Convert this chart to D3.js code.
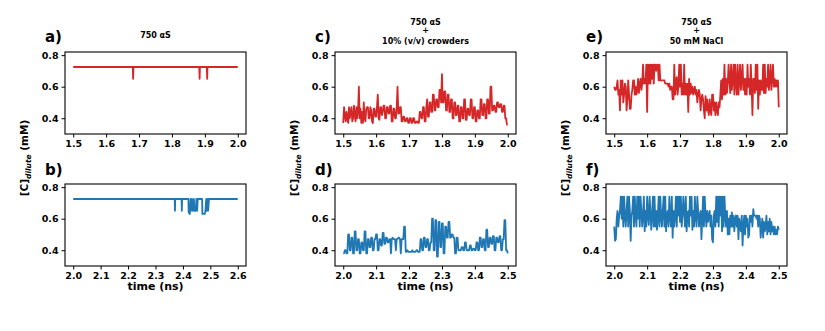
<!DOCTYPE html>
<html>
<head>
<meta charset="utf-8">
<script src="https://cdnjs.cloudflare.com/ajax/libs/d3/7.8.5/d3.min.js"></script>
<style>
  body { margin: 0; background: #fff; }
  svg text { font-family: "DejaVu Sans", sans-serif; font-weight: bold; fill: #000; }
</style>
</head>
<body>
<div id="chart"></div>
<script>
// a) and b): [time (ns), concentration (mM)] pairs, a flat trace with short dips
var dataA = [[1.5,0.725],[1.681,0.725],[1.682,0.65],[1.683,0.725],[1.883,0.725],[1.884,0.65],
  [1.885,0.725],[1.906,0.725],[1.907,0.65],[1.908,0.725],[2.0,0.725]];

var dataB = [[2.0,0.725],[2.37,0.725],[2.371,0.65],[2.372,0.725],[2.395,0.725],[2.396,0.65],
  [2.397,0.725],[2.42,0.725],[2.421,0.64],[2.425,0.63],[2.428,0.725],[2.43,0.65],[2.433,0.725],
  [2.436,0.65],[2.44,0.725],[2.442,0.65],[2.447,0.65],[2.449,0.725],[2.452,0.65],[2.454,0.725],
  [2.47,0.725],[2.471,0.63],[2.48,0.63],[2.482,0.65],[2.485,0.725],[2.487,0.65],[2.49,0.725],
  [2.492,0.65],[2.495,0.725],[2.6,0.725]];

// sampling times for c), e) (top row) and d), f) (bottom row)
var timeTop = [
  1.5,1.5025,1.505,1.5075,1.51,1.5125,1.515,1.5175,1.52,1.5225,
  1.525,1.5275,1.53,1.5325,1.535,1.5375,1.54,1.5425,1.545,1.5475,
  1.55,1.5525,1.555,1.5575,1.56,1.5625,1.565,1.5675,1.57,1.5725,
  1.575,1.5775,1.58,1.5825,1.585,1.5875,1.59,1.5925,1.595,1.5975,
  1.6,1.6025,1.605,1.6075,1.61,1.6125,1.615,1.6175,1.62,1.6225,
  1.625,1.6275,1.63,1.6325,1.635,1.6375,1.64,1.6425,1.645,1.6475,
  1.65,1.6525,1.655,1.6575,1.66,1.6625,1.665,1.6675,1.67,1.6725,
  1.675,1.6775,1.68,1.6825,1.685,1.6875,1.69,1.6925,1.695,1.6975,
  1.7,1.7025,1.705,1.7075,1.71,1.7125,1.715,1.7175,1.72,1.7225,
  1.725,1.7275,1.73,1.7325,1.735,1.7375,1.74,1.7425,1.745,1.7475,
  1.75,1.7525,1.755,1.7575,1.76,1.7625,1.765,1.7675,1.77,1.7725,
  1.775,1.7775,1.78,1.7825,1.785,1.7875,1.79,1.7925,1.795,1.7975,
  1.8,1.8025,1.805,1.8075,1.81,1.8125,1.815,1.8175,1.82,1.8225,
  1.825,1.8275,1.83,1.8325,1.835,1.8375,1.84,1.8425,1.845,1.8475,
  1.85,1.8525,1.855,1.8575,1.86,1.8625,1.865,1.8675,1.87,1.8725,
  1.875,1.8775,1.88,1.8825,1.885,1.8875,1.89,1.8925,1.895,1.8975,
  1.9,1.9025,1.905,1.9075,1.91,1.9125,1.915,1.9175,1.92,1.9225,
  1.925,1.9275,1.93,1.9325,1.935,1.9375,1.94,1.9425,1.945,1.9475,
  1.95,1.9525,1.955,1.9575,1.96,1.9625,1.965,1.9675,1.97,1.9725,
  1.975,1.9775,1.98,1.9825,1.985,1.9875,1.99,1.9925,1.995,1.9975,
  2.0];

var timeBottom = [
  2.0,2.0025,2.005,2.0075,2.01,2.0125,2.015,2.0175,2.02,2.0225,
  2.025,2.0275,2.03,2.0325,2.035,2.0375,2.04,2.0425,2.045,2.0475,
  2.05,2.0525,2.055,2.0575,2.06,2.0625,2.065,2.0675,2.07,2.0725,
  2.075,2.0775,2.08,2.0825,2.085,2.0875,2.09,2.0925,2.095,2.0975,
  2.1,2.1025,2.105,2.1075,2.11,2.1125,2.115,2.1175,2.12,2.1225,
  2.125,2.1275,2.13,2.1325,2.135,2.1375,2.14,2.1425,2.145,2.1475,
  2.15,2.1525,2.155,2.1575,2.16,2.1625,2.165,2.1675,2.17,2.1725,
  2.175,2.1775,2.18,2.1825,2.185,2.1875,2.19,2.1925,2.195,2.1975,
  2.2,2.2025,2.205,2.2075,2.21,2.2125,2.215,2.2175,2.22,2.2225,
  2.225,2.2275,2.23,2.2325,2.235,2.2375,2.24,2.2425,2.245,2.2475,
  2.25,2.2525,2.255,2.2575,2.26,2.2625,2.265,2.2675,2.27,2.2725,
  2.275,2.2775,2.28,2.2825,2.285,2.2875,2.29,2.2925,2.295,2.2975,
  2.3,2.3025,2.305,2.3075,2.31,2.3125,2.315,2.3175,2.32,2.3225,
  2.325,2.3275,2.33,2.3325,2.335,2.3375,2.34,2.3425,2.345,2.3475,
  2.35,2.3525,2.355,2.3575,2.36,2.3625,2.365,2.3675,2.37,2.3725,
  2.375,2.3775,2.38,2.3825,2.385,2.3875,2.39,2.3925,2.395,2.3975,
  2.4,2.4025,2.405,2.4075,2.41,2.4125,2.415,2.4175,2.42,2.4225,
  2.425,2.4275,2.43,2.4325,2.435,2.4375,2.44,2.4425,2.445,2.4475,
  2.45,2.4525,2.455,2.4575,2.46,2.4625,2.465,2.4675,2.47,2.4725,
  2.475,2.4775,2.48,2.4825,2.485,2.4875,2.49,2.4925,2.495,2.4975,
  2.5];

// c) 750 aS + 10% crowders (red)
var concC = [
  0.37,0.47,0.42,0.38,0.44,0.40,0.37,0.47,0.40,0.44,
  0.47,0.38,0.40,0.48,0.42,0.38,0.47,0.40,0.44,0.60,
  0.40,0.46,0.37,0.44,0.37,0.50,0.40,0.38,0.46,0.47,
  0.47,0.40,0.40,0.47,0.45,0.38,0.37,0.46,0.46,0.41,
  0.41,0.47,0.55,0.40,0.39,0.47,0.47,0.42,0.44,0.48,
  0.48,0.40,0.40,0.47,0.47,0.43,0.43,0.48,0.48,0.38,
  0.38,0.46,0.46,0.40,0.40,0.47,0.60,0.43,0.43,0.47,
  0.47,0.38,0.38,0.41,0.41,0.38,0.38,0.40,0.40,0.37,
  0.37,0.40,0.40,0.37,0.37,0.40,0.40,0.37,0.37,0.38,
  0.38,0.37,0.37,0.44,0.44,0.40,0.40,0.47,0.47,0.38,
  0.38,0.47,0.52,0.41,0.41,0.50,0.50,0.44,0.44,0.55,
  0.55,0.45,0.45,0.52,0.52,0.47,0.47,0.58,0.58,0.50,
  0.68,0.50,0.50,0.57,0.57,0.45,0.45,0.55,0.55,0.44,
  0.44,0.52,0.52,0.40,0.40,0.50,0.50,0.42,0.42,0.48,
  0.48,0.38,0.38,0.47,0.47,0.40,0.40,0.52,0.52,0.39,
  0.39,0.46,0.46,0.42,0.42,0.52,0.52,0.40,0.40,0.47,
  0.47,0.38,0.38,0.45,0.45,0.40,0.40,0.52,0.52,0.42,
  0.42,0.49,0.49,0.40,0.40,0.52,0.52,0.43,0.43,0.60,
  0.60,0.45,0.45,0.48,0.48,0.44,0.44,0.50,0.50,0.47,
  0.47,0.49,0.49,0.44,0.44,0.48,0.48,0.40,0.40,0.36,
  0.36];

// d) 750 aS + 10% crowders (blue)
var concD = [
  0.38,0.38,0.40,0.40,0.38,0.38,0.50,0.50,0.40,0.40,
  0.48,0.48,0.38,0.38,0.52,0.52,0.40,0.40,0.47,0.47,
  0.38,0.38,0.45,0.45,0.40,0.40,0.52,0.52,0.38,0.38,
  0.47,0.47,0.42,0.42,0.48,0.48,0.40,0.40,0.47,0.47,
  0.50,0.50,0.40,0.40,0.47,0.47,0.43,0.43,0.51,0.51,
  0.44,0.44,0.48,0.48,0.45,0.45,0.47,0.47,0.38,0.47,
  0.48,0.47,0.47,0.47,0.40,0.47,0.47,0.48,0.48,0.47,
  0.38,0.47,0.47,0.47,0.55,0.55,0.39,0.39,0.40,0.39,
  0.39,0.39,0.39,0.39,0.40,0.39,0.39,0.39,0.39,0.40,
  0.40,0.39,0.39,0.39,0.47,0.47,0.40,0.40,0.48,0.48,
  0.42,0.42,0.47,0.47,0.40,0.40,0.45,0.45,0.60,0.60,
  0.40,0.40,0.59,0.59,0.36,0.36,0.58,0.58,0.42,0.42,
  0.57,0.57,0.38,0.38,0.55,0.55,0.48,0.48,0.58,0.58,
  0.48,0.48,0.50,0.50,0.48,0.48,0.38,0.38,0.48,0.48,
  0.40,0.40,0.40,0.40,0.42,0.42,0.40,0.40,0.45,0.45,
  0.40,0.40,0.40,0.40,0.43,0.43,0.40,0.40,0.41,0.41,
  0.40,0.40,0.45,0.45,0.40,0.40,0.48,0.48,0.42,0.42,
  0.47,0.47,0.40,0.40,0.53,0.53,0.42,0.42,0.48,0.48,
  0.44,0.44,0.49,0.49,0.40,0.40,0.48,0.48,0.45,0.45,
  0.49,0.49,0.40,0.40,0.47,0.47,0.59,0.59,0.40,0.40,
  0.38];

// e) 750 aS + 50 mM NaCl (red)
var concE = [
  0.60,0.58,0.58,0.60,0.64,0.55,0.58,0.45,0.64,0.55,
  0.64,0.50,0.55,0.62,0.60,0.45,0.52,0.64,0.55,0.46,
  0.46,0.55,0.58,0.64,0.64,0.55,0.60,0.55,0.58,0.65,
  0.56,0.62,0.65,0.58,0.62,0.74,0.62,0.65,0.62,0.74,
  0.44,0.74,0.62,0.74,0.62,0.74,0.65,0.74,0.62,0.74,
  0.74,0.70,0.74,0.74,0.64,0.74,0.64,0.64,0.64,0.64,
  0.64,0.64,0.62,0.62,0.62,0.62,0.60,0.62,0.58,0.60,
  0.60,0.52,0.52,0.74,0.55,0.62,0.66,0.55,0.60,0.74,
  0.60,0.74,0.55,0.62,0.55,0.74,0.55,0.62,0.55,0.62,
  0.44,0.65,0.55,0.62,0.56,0.60,0.55,0.58,0.60,0.55,
  0.58,0.50,0.55,0.58,0.55,0.45,0.52,0.55,0.52,0.45,
  0.40,0.54,0.45,0.52,0.45,0.42,0.52,0.45,0.42,0.55,
  0.55,0.45,0.50,0.42,0.50,0.45,0.42,0.50,0.47,0.55,
  0.64,0.52,0.65,0.55,0.74,0.55,0.65,0.56,0.62,0.74,
  0.65,0.56,0.74,0.58,0.65,0.74,0.55,0.74,0.62,0.55,
  0.74,0.55,0.64,0.74,0.58,0.65,0.74,0.58,0.65,0.55,
  0.65,0.55,0.74,0.60,0.65,0.55,0.74,0.60,0.42,0.65,
  0.65,0.56,0.74,0.58,0.74,0.46,0.64,0.55,0.64,0.58,
  0.58,0.74,0.56,0.74,0.56,0.65,0.60,0.74,0.58,0.65,
  0.74,0.58,0.65,0.74,0.60,0.65,0.60,0.64,0.60,0.64,
  0.47];

// f) 750 aS + 50 mM NaCl (blue)
var concF = [
  0.55,0.46,0.47,0.60,0.65,0.55,0.62,0.65,0.74,0.60,
  0.74,0.55,0.74,0.62,0.55,0.65,0.74,0.55,0.74,0.65,
  0.46,0.62,0.65,0.74,0.55,0.74,0.62,0.55,0.74,0.60,
  0.74,0.55,0.74,0.65,0.55,0.62,0.74,0.52,0.65,0.55,
  0.74,0.62,0.56,0.74,0.65,0.53,0.62,0.74,0.55,0.74,
  0.55,0.65,0.53,0.62,0.74,0.55,0.74,0.62,0.55,0.65,
  0.74,0.55,0.74,0.52,0.62,0.65,0.55,0.74,0.62,0.55,
  0.74,0.48,0.65,0.55,0.62,0.74,0.55,0.74,0.62,0.74,
  0.58,0.74,0.55,0.62,0.74,0.65,0.55,0.74,0.52,0.62,
  0.65,0.55,0.74,0.62,0.74,0.53,0.65,0.55,0.74,0.62,
  0.55,0.74,0.65,0.55,0.62,0.65,0.47,0.60,0.74,0.55,
  0.74,0.62,0.55,0.65,0.58,0.62,0.65,0.55,0.62,0.47,
  0.45,0.62,0.65,0.55,0.74,0.58,0.74,0.55,0.74,0.62,
  0.74,0.52,0.74,0.55,0.74,0.62,0.55,0.65,0.50,0.60,
  0.50,0.62,0.55,0.64,0.55,0.62,0.52,0.60,0.62,0.55,
  0.62,0.47,0.60,0.55,0.52,0.62,0.43,0.55,0.62,0.50,
  0.62,0.55,0.60,0.48,0.50,0.62,0.58,0.62,0.55,0.66,
  0.62,0.62,0.62,0.60,0.62,0.55,0.62,0.60,0.48,0.55,
  0.60,0.48,0.58,0.52,0.55,0.62,0.50,0.58,0.52,0.60,
  0.50,0.58,0.52,0.55,0.50,0.55,0.50,0.53,0.50,0.55,
  0.53];

// axis tick labels
var yTicks = [0.4, 0.6, 0.8];
var xTicksA = [1.5, 1.6, 1.7, 1.8, 1.9, 2.0];
var xTicksB = [2.0, 2.1, 2.2, 2.3, 2.4, 2.5, 2.6];
var xTicksD = [2.0, 2.1, 2.2, 2.3, 2.4, 2.5];

var panelLabels = ["a)", "b)", "c)", "d)", "e)", "f)"];
var titleA = ["750 αS"];
var titleC = ["750 αS", "+", "10% (v/v) crowders"];
var titleE = ["750 αS", "+", "50 mM NaCl"];

var red = "#d62728", blue = "#1f77b4";

function init(){
    var w = 825, h = 331;
    var colLeft = [65, 335, 606];
    var pw = 181;
    var rowTop = [52, 184];
    var ph = 82;
    var titleBase = [25, 33, 44]; // baselines for three-line titles

    var svg = d3.select("#chart").append("svg")
        .attr("width", w).attr("height", h);

    var panels = [
        {data: dataA, ticks: xTicksA, col: 0, row: 0, color: red, title: titleA},
        {data: dataB, ticks: xTicksB, col: 0, row: 1, color: blue},
        {data: d3.zip(timeTop, concC), ticks: xTicksA, col: 1, row: 0, color: red, title: titleC},
        {data: d3.zip(timeBottom, concD), ticks: xTicksD, col: 1, row: 1, color: blue},
        {data: d3.zip(timeTop, concE), ticks: xTicksA, col: 2, row: 0, color: red, title: titleE},
        {data: d3.zip(timeBottom, concF), ticks: xTicksD, col: 2, row: 1, color: blue}
    ];

    panels.forEach(function(p, i){
        var x0 = colLeft[p.col], y0 = rowTop[p.row];
        var ext = d3.extent(p.data, function(d){ return d[0]; });
        var pad = (ext[1] - ext[0]) * 0.05;
        var xScale = d3.scaleLinear().domain([ext[0] - pad, ext[1] + pad]).range([0, pw]);
        var yScale = d3.scaleLinear().domain([0.3, 0.82]).range([ph, 0]);

        var g = svg.append("g").attr("transform", "translate(" + x0 + "," + y0 + ")");

        var line = d3.line()
            .x(function(d){ return xScale(d[0]); })
            .y(function(d){ return yScale(d[1]); });

        g.append("path")
            .datum(p.data)
            .attr("d", line)
            .attr("fill", "none")
            .attr("stroke", p.color)
            .attr("stroke-width", 1.8)
            .attr("stroke-linejoin", "round");

        // frame
        g.append("rect")
            .attr("width", pw).attr("height", ph)
            .attr("fill", "none").attr("stroke", "#000").attr("stroke-width", 1.1);

        var xAxis = d3.axisBottom(xScale).tickValues(p.ticks).tickFormat(d3.format(".1f"))
            .tickSize(3.5).tickPadding(3);
        var gx = g.append("g").attr("transform", "translate(0," + ph + ")").call(xAxis);

        var yAxis = d3.axisLeft(yScale).tickValues(yTicks).tickFormat(d3.format(".1f"))
            .tickSize(3.5).tickPadding(3);
        var gy = g.append("g").call(yAxis);

        [gx, gy].forEach(function(a){
            a.select(".domain").remove();
            a.selectAll("line").attr("stroke", "#000").attr("stroke-width", 1);
            a.selectAll("text").attr("font-size", "9.5px").attr("font-family", null);
        });

        // panel letter
        svg.append("text")
            .attr("x", x0 - 20)
            .attr("y", p.row === 0 ? 41.5 : 174.5)
            .attr("font-size", "15px")
            .text(panelLabels[i]);

        if (p.row === 1) {
            svg.append("text")
                .attr("x", x0 + pw / 2)
                .attr("y", 290)
                .attr("text-anchor", "middle")
                .attr("font-size", "11px")
                .text("time (ns)");

            var yl = svg.append("text")
                .attr("transform", "translate(" + (x0 - 37) + ",158) rotate(-90)")
                .attr("text-anchor", "middle")
                .attr("font-size", "10.5px");
            yl.append("tspan").text("[C]");
            yl.append("tspan").attr("font-size", "7.5px").attr("font-style", "italic")
                .attr("dy", 2.5).text("dilute");
            yl.append("tspan").attr("dy", -2.5).text(" (mM)");
        }

        if (p.title) {
            p.title.forEach(function(t, k){
                svg.append("text")
                    .attr("x", x0 + pw / 2)
                    .attr("y", p.title.length === 1 ? 38 : titleBase[k])
                    .attr("text-anchor", "middle")
                    .attr("font-size", "8px")
                    .text(t);
            });
        }
    });
}
window.onload = init;
</script>
</body>
</html>
